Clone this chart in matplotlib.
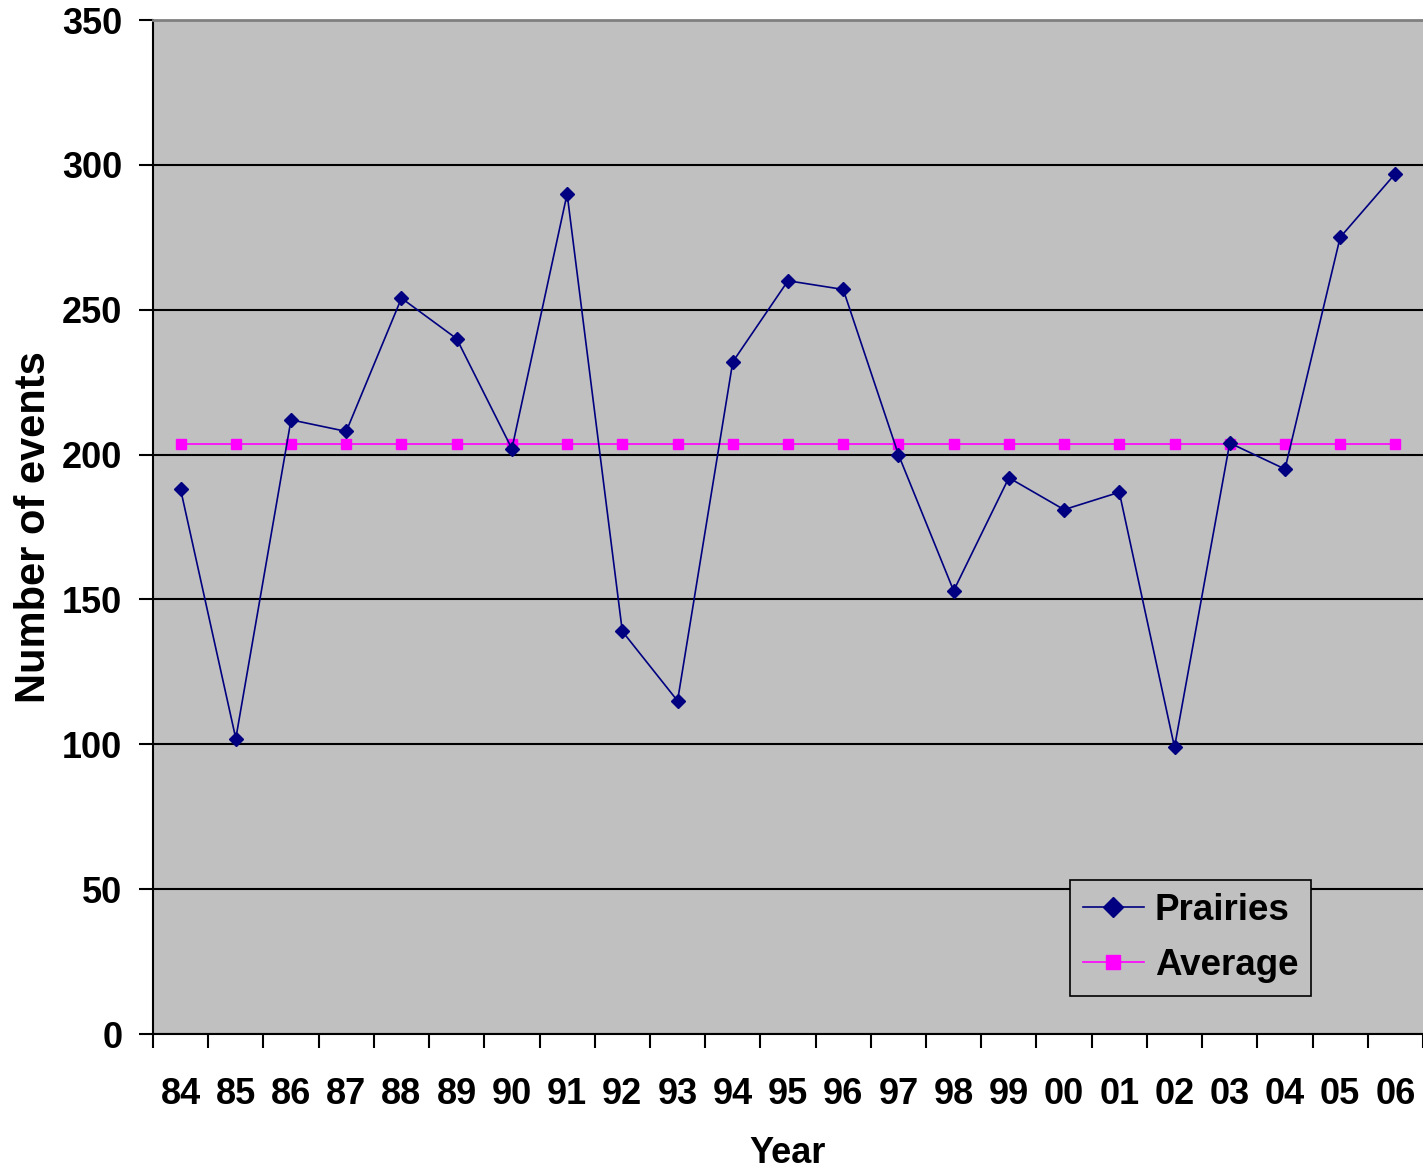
import matplotlib.pyplot as plt

plt.rcParams['font.family'] = ['Liberation Sans', 'DejaVu Sans']
plt.rcParams['font.weight'] = 'bold'

years = ['84', '85', '86', '87', '88', '89', '90', '91', '92', '93', '94', '95',
         '96', '97', '98', '99', '00', '01', '02', '03', '04', '05', '06']
prairies = [188, 102, 212, 208, 254, 240, 202, 290, 139, 115, 232, 260,
            257, 200, 153, 192, 181, 187, 99, 204, 195, 275, 297]
average_value = 203.5
average = [average_value] * len(years)

fig = plt.figure(figsize=(14.23, 11.7), dpi=100)
ax = fig.add_axes([0.1075, 0.1162, 0.8925, 0.8667])
ax.set_facecolor('#c0c0c0')

x = list(range(len(years)))
ax.plot(x, prairies, color='#000080', marker='D', markersize=7.5, linewidth=1.2,
        label='Prairies', zorder=3)
ax.plot(x, average, color='#ff00ff', marker='s', markersize=7.5, linewidth=1.2,
        label='Average', zorder=2)

ax.set_xlim(-0.5, len(years) - 0.5)
ax.set_ylim(0, 350)
ax.set_yticks(range(0, 351, 50))
ax.yaxis.grid(True, color='black', linewidth=1.5)
ax.set_axisbelow(True)

# category ticks sit between the years, labels at the centres
ax.set_xticks([i - 0.5 for i in range(len(years) + 1)])
ax.set_xticklabels([])
ax.set_xticks(x, minor=True)
ax.set_xticklabels(years, minor=True, fontsize=26, fontweight='bold')
ax.tick_params(axis='x', which='major', length=10, width=1.5, direction='out')
ax.tick_params(axis='x', which='minor', length=0, pad=31)
ax.tick_params(axis='y', length=10, width=1.5, pad=12, labelsize=26)

ax.spines['right'].set_visible(False)
ax.spines['top'].set_color('#808080')
ax.spines['top'].set_linewidth(2)
ax.spines['left'].set_linewidth(1.5)
ax.spines['bottom'].set_linewidth(1.5)

ax.set_xlabel('Year', fontsize=26, fontweight='bold', labelpad=17)
ax.set_ylabel('Number of events', fontsize=30, fontweight='bold', labelpad=6)

leg = ax.legend(loc='lower left', bbox_to_anchor=(0.722, 0.0375), fontsize=26.5,
                frameon=True, fancybox=False, framealpha=1, edgecolor='black',
                facecolor='#c0c0c0', handlelength=1.65, handletextpad=0.3,
                borderpad=0.35, labelspacing=0.55, borderaxespad=0,
                markerscale=1.3)
leg.get_frame().set_linewidth(1.2)

plt.savefig('out.png', dpi=100)
